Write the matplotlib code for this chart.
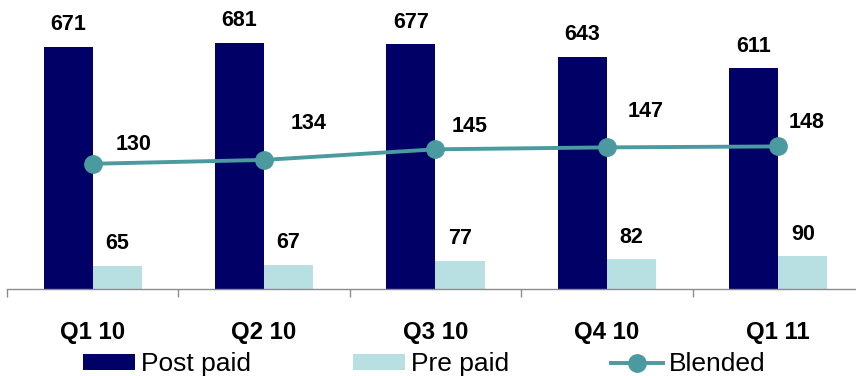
import matplotlib
matplotlib.use("Agg")
import matplotlib.pyplot as plt
from matplotlib.lines import Line2D
from matplotlib.patches import Patch

# Quarterly ARPU data
quarters = ["Q1 10", "Q2 10", "Q3 10", "Q4 10", "Q1 11"]
post_paid = [671, 681, 677, 643, 611]
pre_paid = [65, 67, 77, 82, 90]
blended = [130, 134, 145, 147, 148]

# Hand-placed offsets (points) for the blended value labels
blended_label_offsets = [(29.5, 13.7), (31.7, 25.9), (24.5, 16.6), (28, 26), (20, 17.3)]

NAVY = "#000066"
LIGHT = "#B8DFE2"
TEAL = "#4A9AA0"
GREY = "#8C8C8C"

plt.rcParams["font.family"] = ["Liberation Sans", "DejaVu Sans"]

fig = plt.figure(figsize=(8.56, 3.76), dpi=100)
ax = fig.add_axes([7 / 856, 87 / 376, 857 / 856, 289 / 376])
ax2 = ax.twinx()

x = list(range(len(quarters)))
w = 0.286
xp = [i - w / 2 for i in x]
xq = [i + w / 2 for i in x]

ax.bar(xp, post_paid, width=w, color=NAVY, zorder=2)
ax.bar(xq, pre_paid, width=w, color=LIGHT, zorder=2)

LBL = 15.5
for xi, v in zip(xp, post_paid):
    ax.annotate(f"{v}", (xi, v), xytext=(0, 16), textcoords="offset points",
                ha="center", va="center", fontsize=LBL, fontweight="bold")
for xi, v in zip(xq, pre_paid):
    ax.annotate(f"{v}", (xi, v), xytext=(0, 16), textcoords="offset points",
                ha="center", va="center", fontsize=LBL, fontweight="bold")

ax2.plot(x, blended, color=TEAL, lw=2.8, marker="o", markersize=12.5, zorder=3)
for xi, v, off in zip(x, blended, blended_label_offsets):
    ax2.annotate(f"{v}", (xi, v), xytext=off, textcoords="offset points",
                 ha="center", va="center", fontsize=LBL, fontweight="bold")

ax.set_xlim(-0.5, len(quarters) - 0.5)
ax.set_ylim(0, 800)
ax2.set_ylim(0, 300)

for a in (ax, ax2):
    for s in ("top", "right", "left"):
        a.spines[s].set_visible(False)
    a.set_yticks([])
ax2.spines["bottom"].set_visible(False)
ax.spines["bottom"].set_color(GREY)
ax.spines["bottom"].set_linewidth(1.0)

ax.set_xticks(x)
ax.set_xticklabels(quarters, fontsize=17.3, fontweight="bold")
ax.tick_params(axis="x", which="major", length=0, pad=23)
ax.set_xticks([i - 0.5 for i in range(len(quarters) + 1)], minor=True)
ax.tick_params(axis="x", which="minor", length=5.5, width=1.0, color=GREY, direction="out")

handles = [
    Patch(facecolor=NAVY, edgecolor="none"),
    Patch(facecolor=LIGHT, edgecolor="none"),
    Line2D([0], [0], color=TEAL, lw=2.8, marker="o", markersize=12.5),
]
fig.legend(handles, ["Post paid", "Pre paid", "Blended"], loc="lower left",
           bbox_to_anchor=(78 / 856, -0.015), ncol=3, frameon=False,
           fontsize=19, handlelength=1.97, handleheight=0.5,
           handletextpad=0.23, columnspacing=3.86, borderpad=0.2,
           borderaxespad=0.0)

fig.savefig("out.png", dpi=100)
